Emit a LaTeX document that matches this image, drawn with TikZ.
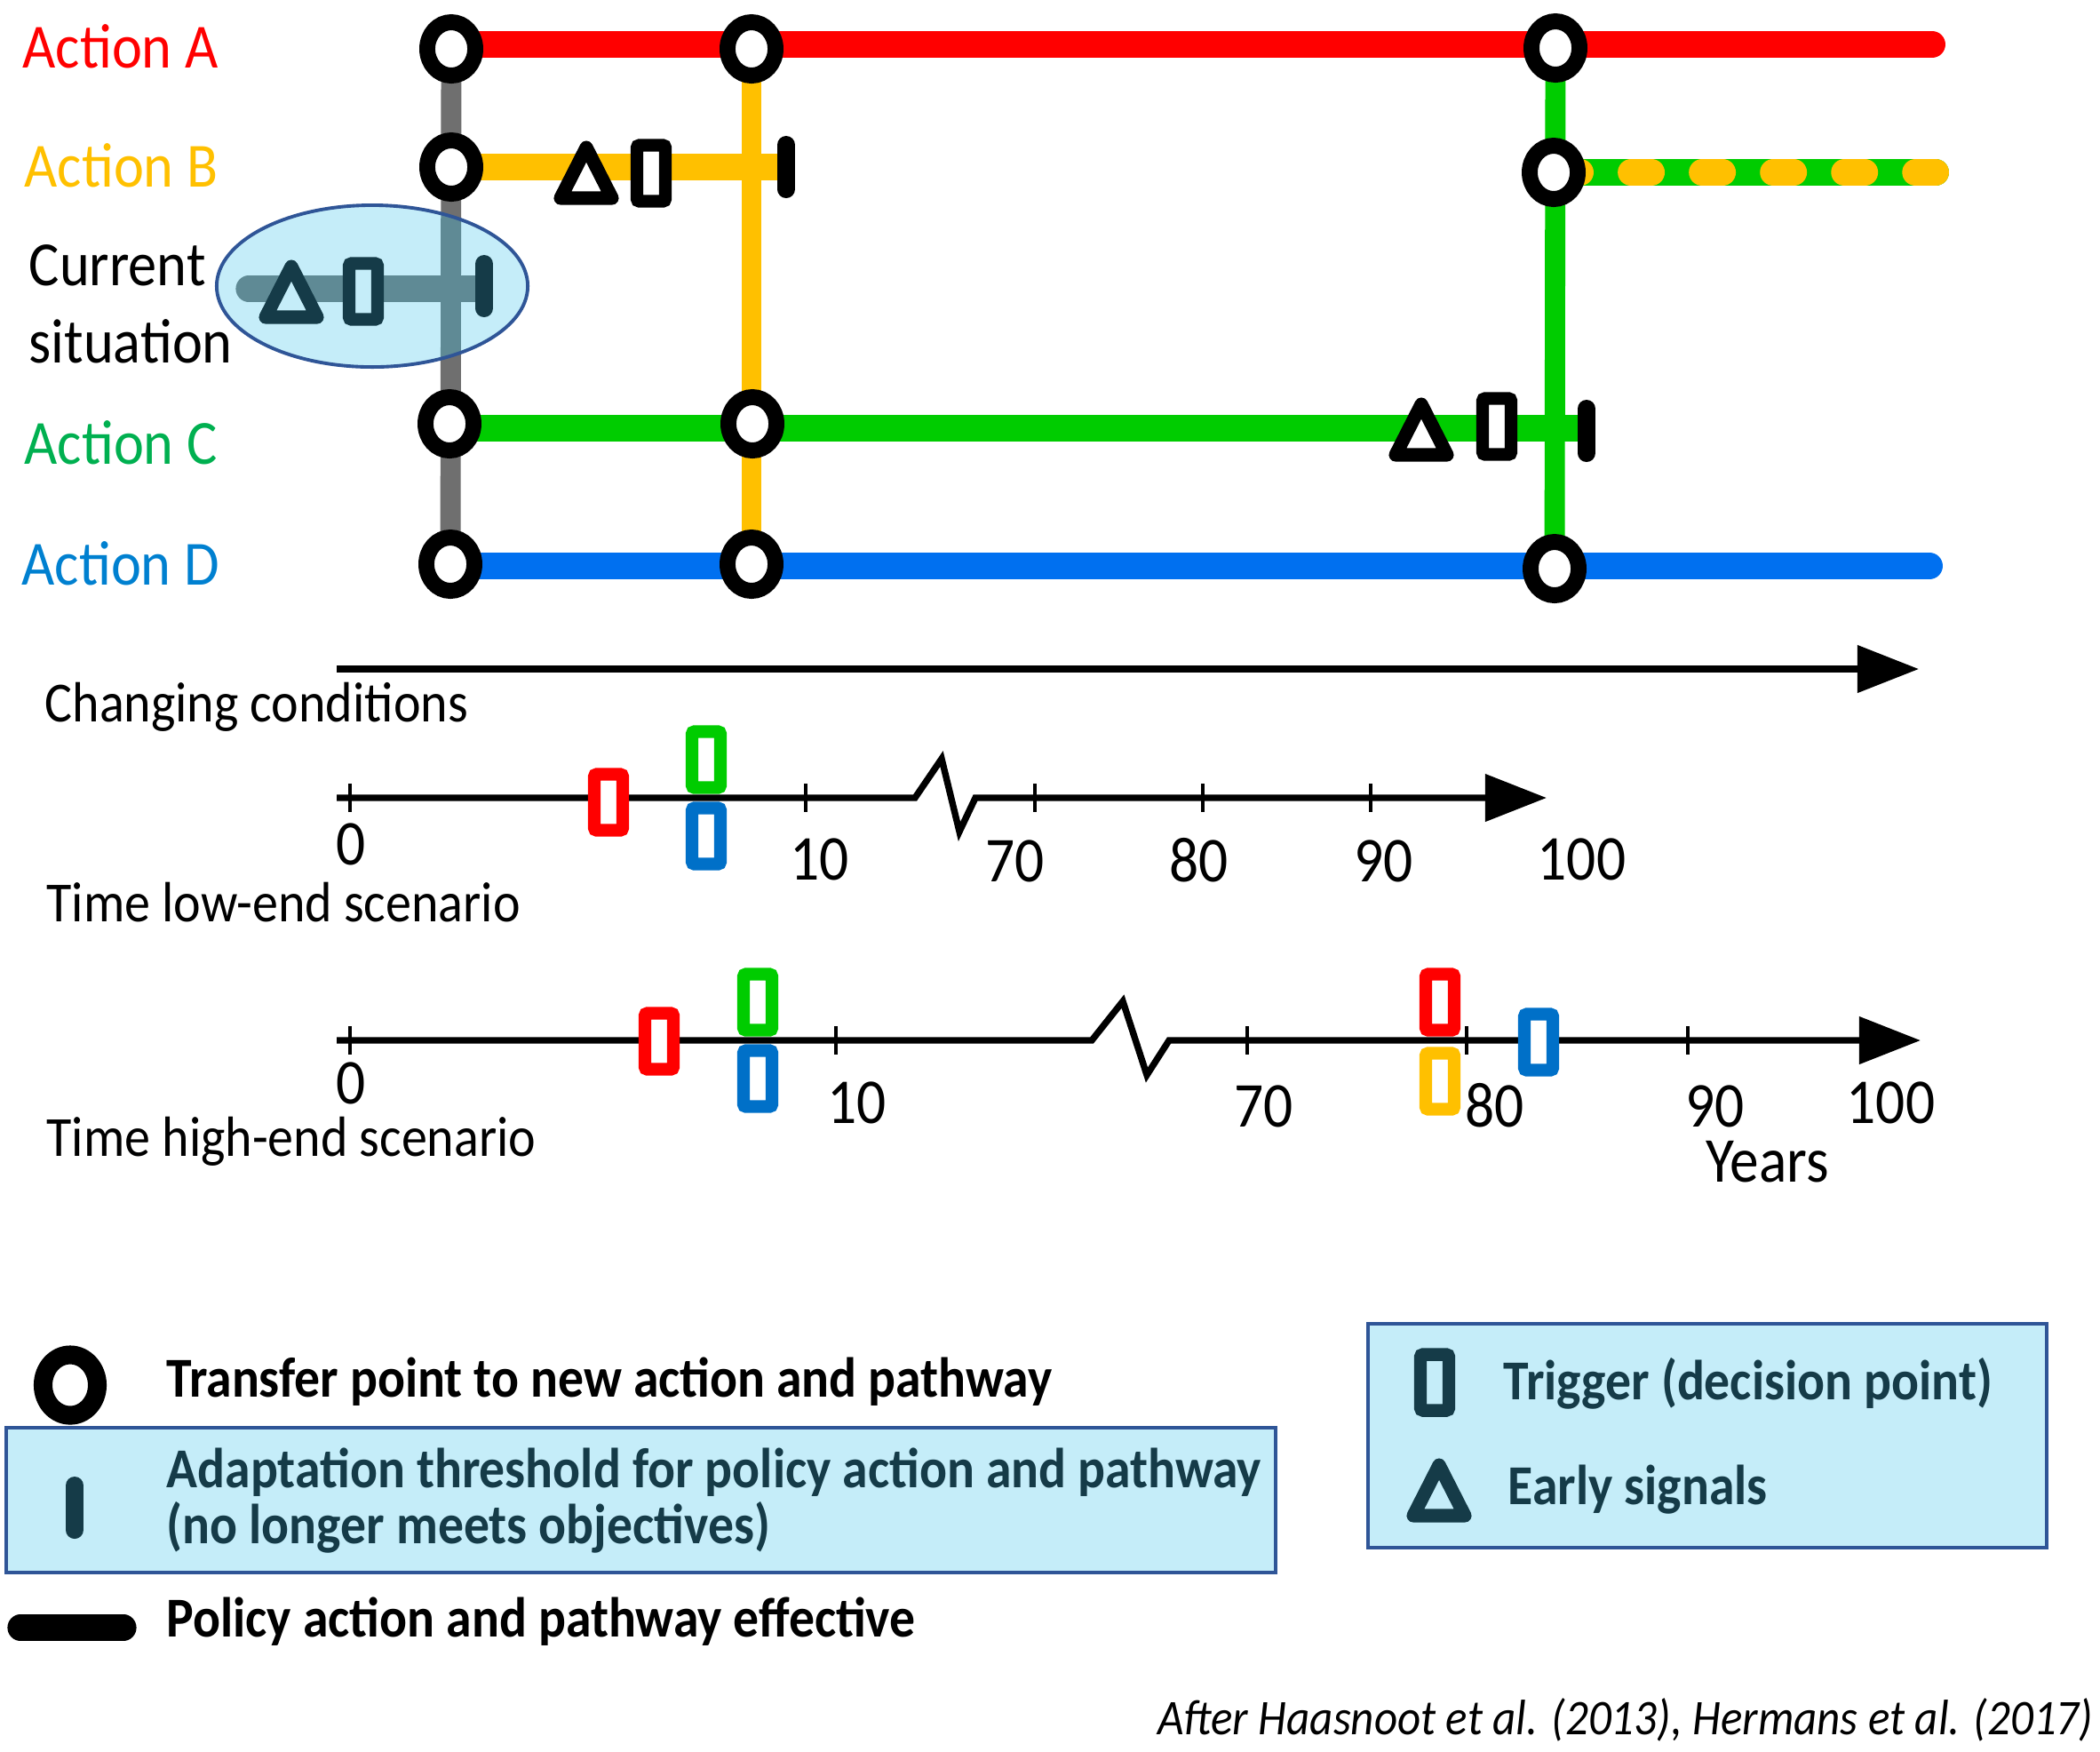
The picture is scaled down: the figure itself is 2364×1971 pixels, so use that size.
\documentclass[tikz,border=0pt]{standalone}
\usepackage{fontspec}
\setmainfont{Carlito}
\usetikzlibrary{arrows.meta}
\definecolor{cRed}{HTML}{FF0000}
\definecolor{cYel}{HTML}{FFC000}
\definecolor{cGrn}{HTML}{00CC00}
\definecolor{cBlu}{HTML}{0070F0}
\definecolor{cGry}{HTML}{6F6F6F}
\definecolor{tGrn}{HTML}{00B050}
\definecolor{tBlu}{HTML}{0080D0}
\definecolor{trBlu}{HTML}{0070C8}
\definecolor{dTeal}{HTML}{153B48}
\definecolor{boxFill}{HTML}{C5EDF9}
\definecolor{boxLine}{HTML}{2F5597}
\definecolor{mixGry}{HTML}{5F8A95}
\newcommand{\vs}[1]{\scalebox{1}[1.1]{#1}}
\begin{document}
\begin{tikzpicture}[x=0.01cm,y=-0.01cm,
  hline/.style={line width=8.5pt},
  vline/.style={line width=6.5pt},
  tpoint/.style={draw=black,fill=white,line width=5.1pt},
  axisline/.style={line width=2.1pt,black},
  tickline/.style={line width=1.1pt,black},
  arr/.style={-{Triangle[length=0.69cm,width=0.52cm]}},
  albl/.style={anchor=base west,inner sep=0pt,font=\fontsize{18.3}{22}\selectfont},
  dlbl/.style={anchor=base west,inner sep=0pt,font=\fontsize{16.5}{20}\selectfont},
  nlbl/.style={anchor=base west,inner sep=0pt,font=\fontsize{18.6}{22}\selectfont},
  leg/.style={anchor=base west,inner sep=0pt,font=\fontsize{16.4}{20}\selectfont\bfseries},
  pics/tri/.style args={#1/#2}{code={\draw[draw=#1,fill=#2,line width=4.3pt,line join=round] (0,-29) -- (29,28) -- (-29,28) -- cycle;}},
  pics/trig/.style args={#1/#2}{code={\draw[draw=#1,fill=#2,line width=4.1pt,rounded corners=0.03cm] (-16,-31.5) rectangle (16,31.5);}},
  pics/thr/.style={code={\draw[#1,line width=5.7pt,line cap=round] (0,-25) -- (0,25);}}
]
\useasboundingbox (0,0) rectangle (2364,1971);

% ---- transfer points (coordinates)
\coordinate (a1) at (508,55); \coordinate (a2) at (846,55); \coordinate (a3) at (1751,54);
\coordinate (b1) at (508,188); \coordinate (b3) at (1749,194);
\coordinate (c1) at (506,477); \coordinate (c2) at (847,477);
\coordinate (d1) at (507,635); \coordinate (d2) at (846,635); \coordinate (d3) at (1750,640);

% ---- vertical transfers
\draw[vline,cGry] (a1) -- (d1);
\draw[vline,cYel] (a2) -- (d2);
\draw[vline,cGrn] (a3) -- (d3);

% ---- horizontal pathways
\coordinate (aS) at (508,50); \coordinate (aE) at (2175,50);
\draw[hline,cRed,line cap=round] (aS) -- (aE);
\coordinate (bS) at (508,188); \coordinate (bT) at (885,188);
\draw[hline,cYel] (bS) -- (bT);
\coordinate (gS) at (1750,194); \coordinate (gE) at (2179,194); \coordinate (yS) at (1756,194);
\draw[hline,cGrn,line cap=round] (gS) -- (gE);
\draw[hline,cYel,line cap=round,dash pattern=on 0.23cm off 0.57cm] (yS) -- (gE);
\coordinate (cS) at (506,482); \coordinate (cT) at (1786,482);
\draw[hline,cGrn] (cS) -- (cT);
\coordinate (dS) at (507,637); \coordinate (dE) at (2172,637);
\draw[hline,cBlu,line cap=round] (dS) -- (dE);

% ---- current situation ellipse
\coordinate (cs) at (419,322);
\fill[boxFill] (cs) ellipse [x radius=1.75cm, y radius=0.91cm];
\begin{scope}
  \clip (cs) ellipse [x radius=1.75cm, y radius=0.91cm];
  \draw[vline,mixGry] (a1) -- (d1);
\end{scope}
\draw[boxLine,line width=1.1pt] (cs) ellipse [x radius=1.75cm, y radius=0.91cm];
\coordinate (curS) at (280,325); \coordinate (curT) at (535,325);
\draw[line width=8.3pt,mixGry,line cap=round] (curS) -- (curT);
\pic at (328,329) {tri=dTeal/boxFill};
\pic at (409,328) {trig=dTeal/boxFill};
\pic at (545,322) {thr=dTeal};

% ---- symbols on pathways
\pic at (660,195) {tri=black/white};
\pic at (733,195) {trig=black/white};
\pic at (885,188) {thr=black};
\pic at (1600,484) {tri=black/white};
\pic at (1685,480) {trig=black/white};
\pic at (1786,485) {thr=black};

% ---- transfer point circles
\foreach \p in {a1,a2,a3,b1,b3,c1,c2,d1,d2,d3}
  \draw[tpoint] (\p) ellipse [x radius=0.27cm, y radius=0.30cm];

% ---- action labels
\node[albl,text=cRed] (labA) at (25,76) {\vs{Action A}};
\node[albl,text=cYel] (labB) at (27,210) {\vs{Action B}};
\node[albl,text=black] (labCur1) at (32,321) {\vs{Current}};
\node[albl,text=black] (labCur2) at (32,408) {\vs{situation}};
\node[albl,text=tGrn] (labC) at (27,522) {\vs{Action C}};
\node[albl,text=tBlu] (labD) at (24,658) {\vs{Action D}};

% ---- changing conditions
\coordinate (ccS) at (379,753); \coordinate (ccE) at (2160,753);
\draw[axisline,arr] (ccS) -- (ccE);
\node[dlbl] (cclbl) at (50,812) {\vs{Changing conditions}};

% ---- low-end time axis
\coordinate (lS) at (379,898); \coordinate (lZ1) at (1030,898); \coordinate (lZ2) at (1060,854);
\coordinate (lZ3) at (1080,936); \coordinate (lZ4) at (1098,898); \coordinate (lE) at (1741,898);
\draw[axisline,arr] (lS) -- (lZ1) -- (lZ2) -- (lZ3) -- (lZ4) -- (lE);
\foreach \x in {394,907,1165,1354,1543} \draw[tickline] (\x,882) -- (\x,914);
\node[nlbl] (l0) at (378,973) {\vs{0}};
\node[nlbl] (l10) at (889,990) {\vs{10}};
\node[nlbl] (l70) at (1109,992) {\vs{70}};
\node[nlbl] (l80) at (1316,992) {\vs{80}};
\node[nlbl] (l90) at (1524,992) {\vs{90}};
\node[nlbl] (l100) at (1730,990) {\vs{100}};
\node[dlbl] (tllbl) at (52,1037) {\vs{Time low-end scenario}};
\pic at (685,903) {trig=cRed/white};
\pic at (795,855) {trig=cGrn/white};
\pic at (795,941) {trig=trBlu/white};

% ---- high-end time axis
\coordinate (hS) at (379,1171); \coordinate (hZ1) at (1229,1171); \coordinate (hZ2) at (1264,1127);
\coordinate (hZ3) at (1291,1210); \coordinate (hZ4) at (1316,1171); \coordinate (hE) at (2162,1171);
\draw[axisline,arr] (hS) -- (hZ1) -- (hZ2) -- (hZ3) -- (hZ4) -- (hE);
\foreach \x in {394,941,1404,1651,1900} \draw[tickline] (\x,1155) -- (\x,1187);
\node[nlbl] (h0) at (378,1242) {\vs{0}};
\node[nlbl] (h10) at (931,1264) {\vs{10}};
\node[nlbl] (h70) at (1389,1268) {\vs{70}};
\node[nlbl] (h80) at (1649,1268) {\vs{80}};
\node[nlbl] (h90) at (1897,1268) {\vs{90}};
\node[nlbl] (h100) at (2078,1264) {\vs{100}};
\node[nlbl] (years) at (1920,1330) {\vs{Years}};
\node[dlbl] (thlbl) at (52,1301) {\vs{Time high-end scenario}};
\pic at (742,1172) {trig=cRed/white};
\pic at (853,1128) {trig=cGrn/white};
\pic at (853,1214) {trig=trBlu/white};
\pic at (1621,1128) {trig=cRed/white};
\pic at (1621,1217) {trig=cYel/white};
\pic at (1732,1173) {trig=trBlu/white};

% ---- legend
\coordinate (lgC) at (79,1559);
\draw[draw=black,line width=6pt] (lgC) ellipse [x radius=0.305cm, y radius=0.34cm];
\node[leg,text=black] (lg1) at (187,1572) {\vs{Transfer point to new action and pathway}};
\coordinate (bx1a) at (7,1607); \coordinate (bx1b) at (1436,1770);
\draw[fill=boxFill,draw=boxLine,line width=1.1pt] (bx1a) rectangle (bx1b);
\pic at (84,1697) {thr=dTeal};
\node[leg,text=dTeal] (lg2) at (187,1674) {\vs{Adaptation threshold for policy action and pathway}};
\node[leg,text=dTeal] (lg3) at (187,1737) {\vs{(no longer meets objectives)}};
\coordinate (plS) at (23,1832); \coordinate (plE) at (139,1832);
\draw[black,line width=8.3pt,line cap=round] (plS) -- (plE);
\node[leg,text=black] (lg4) at (187,1842) {\vs{Policy action and pathway effective}};
\coordinate (bx2a) at (1540,1490); \coordinate (bx2b) at (2304,1742);
\draw[fill=boxFill,draw=boxLine,line width=1.1pt] (bx2a) rectangle (bx2b);
\pic at (1615,1556) {trig=dTeal/boxFill};
\pic at (1620,1678) {tri=dTeal/boxFill};
\node[leg,text=dTeal] (lg5) at (1692,1575) {\vs{Trigger (decision point)}};
\node[leg,text=dTeal] (lg6) at (1697,1693) {\vs{Early signals}};

% ---- citation
\node[anchor=base east,inner sep=0pt,font=\fontsize{14.5}{18}\selectfont\itshape] (cite) at (2357,1952) {\vs{After Haasnoot et al. (2013), Hermans et al. (2017)}};
\end{tikzpicture}
\end{document}
